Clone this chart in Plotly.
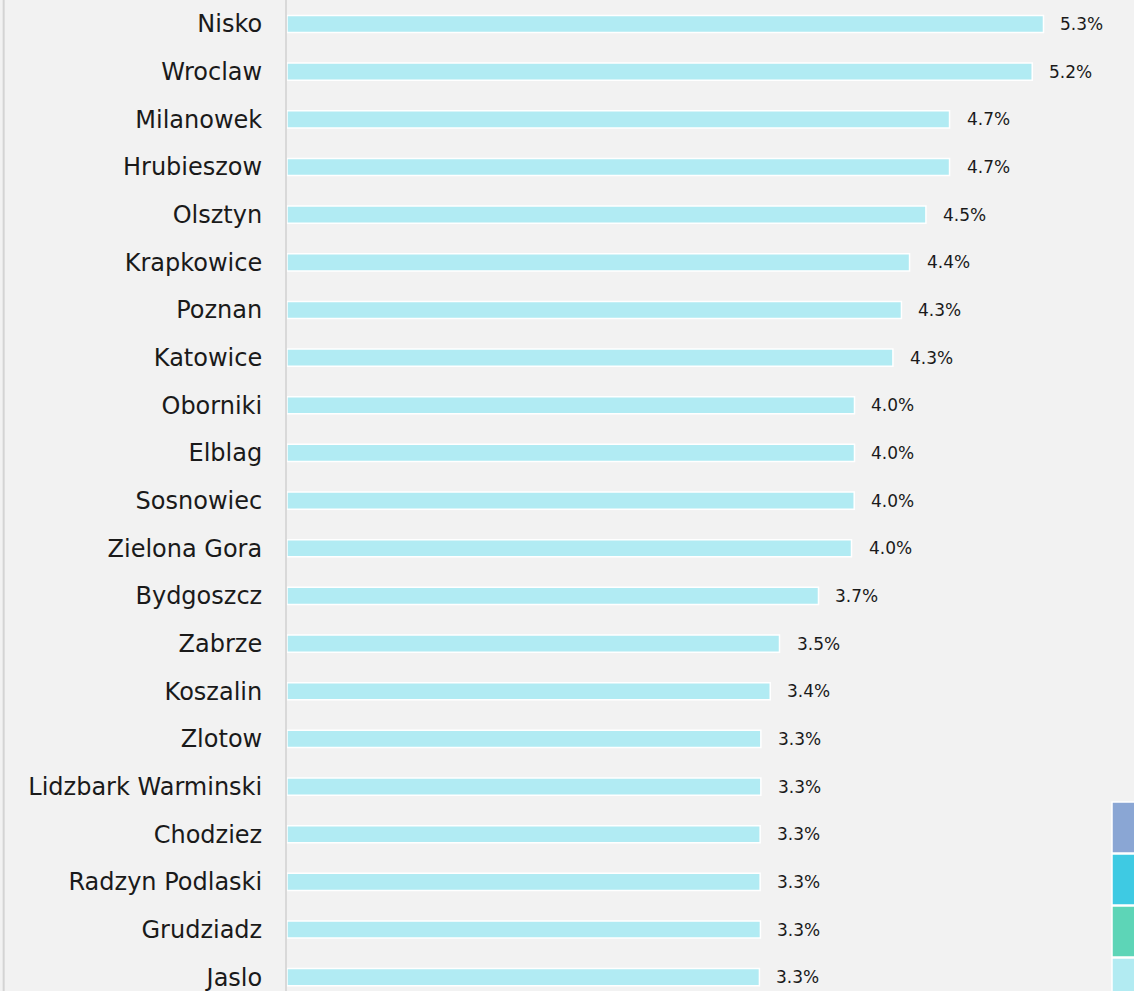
import plotly.graph_objects as go

cities = ["Nisko", "Wroclaw", "Milanowek", "Hrubieszow", "Olsztyn", "Krapkowice",
          "Poznan", "Katowice", "Oborniki", "Elblag", "Sosnowiec", "Zielona Gora",
          "Bydgoszcz", "Zabrze", "Koszalin", "Zlotow", "Lidzbark Warminski",
          "Chodziez", "Radzyn Podlaski", "Grudziadz", "Jaslo"]
values = [5.316, 5.237, 4.656, 4.656, 4.49, 4.375, 4.318, 4.258, 3.988, 3.988,
          3.986, 3.967, 3.735, 3.461, 3.396, 3.33, 3.33, 3.325, 3.325, 3.327, 3.32]
legend_colors = ["#8aa6d4", "#3ecae3", "#5dd5b7", "#b2ebf2"]

BG = "#f2f2f2"
FONT = "Century Gothic, DejaVu Sans, sans-serif"

fig = go.Figure()
fig.add_trace(go.Bar(
    x=values, y=cities, orientation="h",
    marker=dict(color="#b1ebf3", line=dict(color="white", width=1.5)),
    width=0.36, showlegend=False, hoverinfo="x+y",
))

for c, v in zip(cities, values):
    fig.add_annotation(x=v, y=c, text=f"{v:.1f}%", showarrow=False,
                       xanchor="left", xshift=15,
                       font=dict(family=FONT, size=17, color="#1a1a1a"))

# left border line
fig.add_shape(type="line", xref="paper", yref="paper", x0=-0.3345, x1=-0.3345,
              y0=0, y1=1, line=dict(color="#d4d4d4", width=2))

# legend swatches (cropped)
H = 991.0
edges = [802, 854, 906, 958, 1010]
for i, col in enumerate(legend_colors):
    fig.add_shape(type="rect", xref="paper", yref="paper",
                  x0=(1112 - 287) / 847, x1=1.05,
                  y0=1 - (edges[i + 1] - 1) / H, y1=1 - edges[i] / H,
                  fillcolor=col, line=dict(color="white", width=1.5), layer="above")

fig.update_layout(
    width=1134, height=991,
    margin=dict(l=287, r=0, t=0, b=0),
    paper_bgcolor=BG, plot_bgcolor=BG,
    font=dict(family=FONT, color="#1a1a1a"),
    bargap=0.64,
    xaxis=dict(range=[0, 847 / 142.3], visible=False, showgrid=False, zeroline=False),
    yaxis=dict(type="category", categoryorder="array", categoryarray=cities,
               range=[20.29, -0.504], showgrid=False, zeroline=False,
               showline=True, linecolor="#d9d9d9", linewidth=2,
               ticks="", ticklabelstandoff=18,
               tickfont=dict(family=FONT, size=24, color="#1a1a1a")),
)

fig.write_html("out.html", config={"displayModeBar": False},
               post_script="document.body.style.margin='0';document.body.style.overflow='hidden';")
